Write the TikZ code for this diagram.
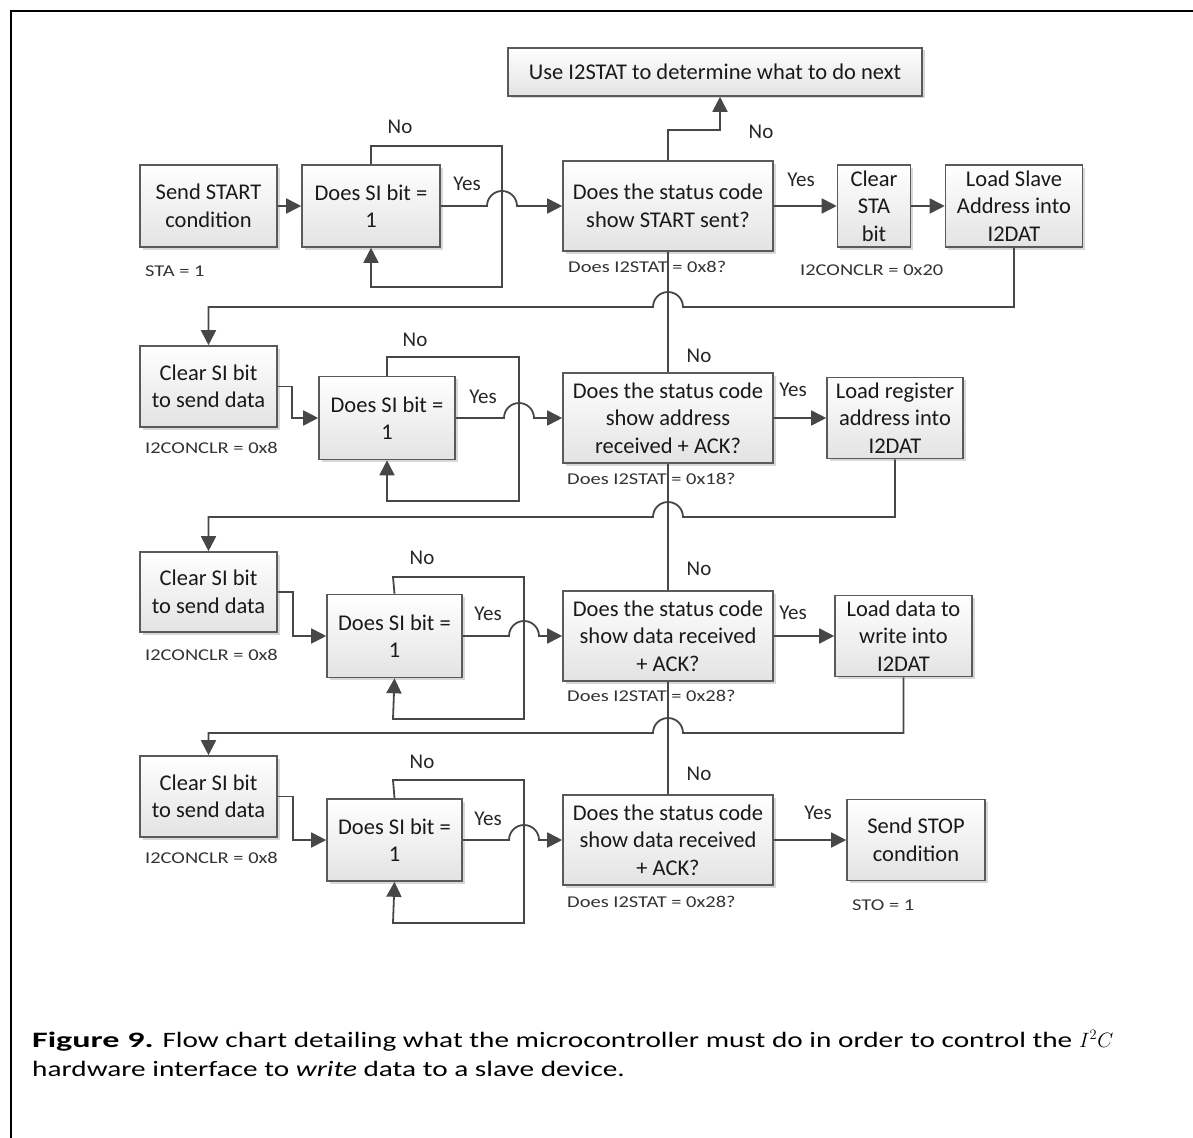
\documentclass[tikz,border=0pt]{standalone}
\usepackage{fontspec}
\setmainfont{Carlito}
\newfontfamily\lblfont[FakeStretch=1.24]{Carlito}
\newfontfamily\capfont[FakeStretch=1.33]{Carlito}
\newfontfamily\capboldfont[FakeStretch=1.55]{Carlito Bold}
\usetikzlibrary{arrows.meta,shadows,calc}
\definecolor{boxline}{HTML}{5A5A5A}
\definecolor{conline}{HTML}{474747}
\begin{document}
\begin{tikzpicture}[x=1pt,y=1pt,
  box/.style={draw=boxline, line width=1.6pt, top color=white, bottom color=black!11,
    drop shadow={shadow xshift=2.5pt, shadow yshift=-2.5pt, fill=black!30, opacity=0.5},
    inner sep=0pt, align=center, font=\fontsize{22.5}{27.5}\selectfont, text=black!90},
  conn/.style={draw=conline, line width=1.8pt},
  arr/.style={conn, -{Triangle[length=15pt,width=15pt]}},
  yn/.style={font=\fontsize{21}{24}\selectfont, text=black!85, inner sep=0pt},
  lbl/.style={font=\lblfont\fontsize{16.5}{19}\selectfont, text=black!80, anchor=west, inner sep=0pt},
  captxt/.style={anchor=base west, inner sep=0pt, font=\capfont\fontsize{22}{28}\selectfont}]
\useasboundingbox (0,0) rectangle (1193,-1137);
% frame
\draw[line width=2.6pt] (11,-1160) -- (11,-11) -- (1210,-11);

% nodes
\node[box, minimum width=414, minimum height=48] (top) at (715,-72) {Use I2STAT to determine what to do next};

\node[box, minimum width=137, minimum height=82] (start) at (208.5,-206) {Send START\\condition};
\node[box, minimum width=138, minimum height=82] (si1) at (371,-206) {Does SI bit =\\1};
\node[box, minimum width=210, minimum height=90] (d1) at (668,-206) {Does the status code\\show START sent?};
\node[box, minimum width=73, minimum height=82] (clrsta) at (874,-206) {Clear\\STA\\bit};
\node[box, minimum width=137, minimum height=82] (loadsa) at (1014,-206) {Load Slave\\Address into\\I2DAT};

\node[box, minimum width=137, minimum height=81] (clr2) at (208.5,-386.5) {Clear SI bit\\to send data};
\node[box, minimum width=136, minimum height=83] (si2) at (387,-418) {Does SI bit =\\1};
\node[box, minimum width=210, minimum height=90] (d2) at (668,-418) {Does the status code\\show address\\received + ACK?};
\node[box, minimum width=136, minimum height=81] (loadreg) at (895,-418) {Load register\\address into\\I2DAT};

\node[box, minimum width=137, minimum height=80] (clr3) at (208.5,-592) {Clear SI bit\\to send data};
\node[box, minimum width=135, minimum height=83] (si3) at (394.5,-636) {Does SI bit =\\1};
\node[box, minimum width=210, minimum height=90] (d3) at (668,-636) {Does the status code\\show data received\\+ ACK?};
\node[box, minimum width=137, minimum height=81] (loaddata) at (903.5,-636) {Load data to\\write into\\I2DAT};

\node[box, minimum width=137, minimum height=81] (clr4) at (208.5,-796.5) {Clear SI bit\\to send data};
\node[box, minimum width=135, minimum height=82] (si4) at (394.5,-840) {Does SI bit =\\1};
\node[box, minimum width=210, minimum height=90] (d4) at (668,-840) {Does the status code\\show data received\\+ ACK?};
\node[box, minimum width=138, minimum height=81] (stop) at (916,-840) {Send STOP\\condition};

% row 1 connectors
\draw[arr] (start.east) -- (si1.west);
\draw[arr] (si1.north) -- (371,-146) -- (502,-146) -- (502,-287) -- (371,-287) -- (si1.south);
\draw[arr] (si1.east) -- (487,-206) arc[start angle=180,end angle=0,radius=15] -- (d1.west);
\coordinate (n1) at (720,-130);
\draw[arr] (d1.north) |- (n1) -- (n1 |- top.south);
\draw[arr] (d1.east) -- (clrsta.west);
\draw[arr] (clrsta.east) -- (loadsa.west);
\draw[arr] (loadsa.south) |- (683,-307) arc[start angle=0,end angle=180,radius=15] -| (clr2.north);

% vertical No chain
\draw[conn] (d2.north) -- (d1.south);
\draw[conn] (d3.north) -- (d2.south);
\draw[conn] (d4.north) -- (d3.south);

% row 2
\draw[arr] (clr2.east) -- (292,-386.5) |- (si2.west);
\draw[arr] (si2.north) -- (387,-357) -- (519,-357) -- (519,-501) -- (387,-501) -- (si2.south);
\draw[arr] (si2.east) -- (504,-418) arc[start angle=180,end angle=0,radius=15] -- (d2.west);
\draw[arr] (d2.east) -- (loadreg.west);
\draw[arr] (loadreg.south) |- (683,-517) arc[start angle=0,end angle=180,radius=15] -| (clr3.north);

% row 3
\draw[arr] (clr3.east) -- (293,-592) |- (si3.west);
\draw[arr] (si3.north) -- (393,-577) -- (524,-577) -- (524,-719) -- (393,-719) -- (si3.south);
\draw[arr] (si3.east) -- (509,-636) arc[start angle=180,end angle=0,radius=15] -- (d3.west);
\draw[arr] (d3.east) -- (loaddata.west);
\draw[arr] (loaddata.south) |- (683,-733) arc[start angle=0,end angle=180,radius=15] -| (clr4.north);

% row 4
\draw[arr] (clr4.east) -- (293,-796.5) |- (si4.west);
\draw[arr] (si4.north) -- (393,-780) -- (524,-780) -- (524,-923) -- (393,-923) -- (si4.south);
\draw[arr] (si4.east) -- (509,-840) arc[start angle=180,end angle=0,radius=15] -- (d4.west);
\draw[arr] (d4.east) -- (stop.west);

% Yes / No labels
\node[yn] (no1) at (400,-127) {No};
\node[yn] (no1d) at (761,-132) {No};
\node[yn] (no2) at (415,-340) {No};
\node[yn] (no2d) at (699,-356) {No};
\node[yn] (no3) at (422,-558) {No};
\node[yn] (no3d) at (699,-569) {No};
\node[yn] (no4) at (422,-762) {No};
\node[yn] (no4d) at (699,-774) {No};
\node[yn] (yes1) at (467,-184) {Yes};
\node[yn] (yes1d) at (801,-180) {Yes};
\node[yn] (yes2) at (483,-397) {Yes};
\node[yn] (yes2d) at (793,-390) {Yes};
\node[yn] (yes3) at (488,-614) {Yes};
\node[yn] (yes3d) at (793,-613) {Yes};
\node[yn] (yes4) at (488,-819) {Yes};
\node[yn] (yes4d) at (818,-813) {Yes};

% small labels
\node[lbl] (l1) at (145,-271) {STA = 1};
\node[lbl] (l2) at (568,-267) {Does I2STAT = 0x8?};
\node[lbl] (l3) at (800,-270) {I2CONCLR = 0x20};
\node[lbl] (l4) at (145,-448) {I2CONCLR = 0x8};
\node[lbl] (l5) at (567,-479) {Does I2STAT = 0x18?};
\node[lbl] (l6) at (145,-655) {I2CONCLR = 0x8};
\node[lbl] (l7) at (567,-696) {Does I2STAT = 0x28?};
\node[lbl] (l8) at (145,-858) {I2CONCLR = 0x8};
\node[lbl] (l9) at (567,-902) {Does I2STAT = 0x28?};
\node[lbl] (l10) at (852,-905) {STO = 1};

% caption
\node[captxt] (cap1) at (32,-1047)
  {{\capboldfont Figure 9.} Flow chart detailing what the microcontroller must do in order to control the $I^{2}C$};
\node[captxt] (cap2) at (32,-1076)
  {hardware interface to \textit{write} data to a slave device.};
\end{tikzpicture}
\end{document}
